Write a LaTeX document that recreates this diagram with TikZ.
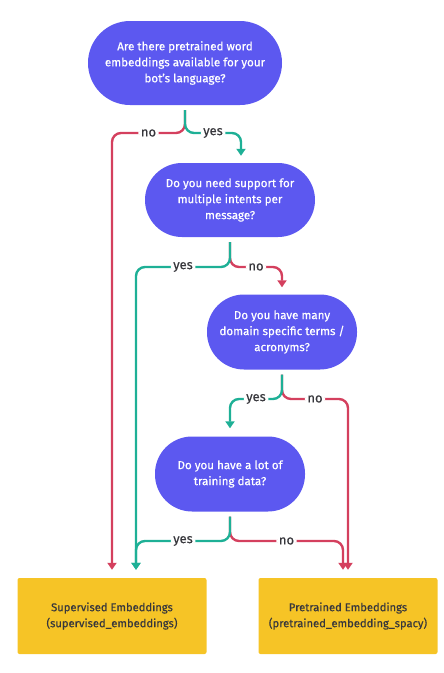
\documentclass[tikz,border=0pt]{standalone}
\usepackage{fontspec}
\setmainfont{Fira Sans}[UprightFeatures={FakeBold=0.5}]
\usetikzlibrary{arrows.meta}

\definecolor{qpurple}{RGB}{92,88,240}
\definecolor{ayellow}{RGB}{246,196,38}
\definecolor{nored}{RGB}{212,64,94}
\definecolor{yesteal}{RGB}{30,176,150}
\definecolor{txtgray}{RGB}{55,55,60}

\tikzset{
  question/.style={fill=qpurple, text=white, align=center,
    font=\fontsize{11.6}{16}\selectfont},
  answer/.style={fill=ayellow, text=txtgray, align=center, rounded corners=2,
    minimum height=76, font=\fontsize{11.2}{16}\selectfont},
  branch/.style={line width=2.4, rounded corners=9, shorten <=5,
    -{Triangle[length=7,width=9]}},
  nobranch/.style={branch, draw=nored},
  yesbranch/.style={branch, draw=yesteal},
  lbl/.style={fill=white, text=txtgray, inner sep=2.5,
    font=\fontsize{13}{14}\selectfont}
}

\begin{document}
\begin{tikzpicture}[x=1pt, y=-1pt]
  \useasboundingbox (0,0) rectangle (444,673);

  \node[question, minimum width=194, minimum height=84, rounded corners=42] (q1) at (185,63)
    {Are there pretrained word\\embeddings available for your\\bot's language?};
  \node[question, minimum width=170, minimum height=74, rounded corners=37] (q2) at (230,200)
    {Do you need support for\\multiple intents per\\message?};
  \node[question, minimum width=150, minimum height=75, rounded corners=37] (q3) at (282,332)
    {Do you have many\\domain specific terms /\\acronyms?};
  \node[question, minimum width=150, minimum height=75, rounded corners=37] (q4) at (230,474)
    {Do you have a lot of\\training data?};

  \node[answer, minimum width=189] (sup) at (112,616)
    {Supervised Embeddings\\(supervised\_embeddings)};
  \node[answer, minimum width=179] (pre) at (348,616)
    {Pretrained Embeddings\\(pretrained\_embedding\_spacy)};

  % junctions below each question
  \coordinate (j1) at (185,133);
  \coordinate (j2) at (230,267);
  \coordinate (j3) at (282,399);
  \coordinate (j4) at (230,541);

  % word embeddings?
  \draw[nobranch, shorten >=8] (q1.south) -- (j1) -- node[lbl] {no} (j1 -| sup.north) -- (sup.north);
  \draw[yesbranch, shorten >=7] (q1.south) -- (j1) -- node[lbl] {yes} (j1 -| 241,0) -- ([xshift=11]q2.north);

  % multiple intents?
  \draw[nobranch, shorten >=7] (q2.south) -- (j2) -- node[lbl] {no} (j2 -| q3.north) -- (q3.north);
  \draw[yesbranch, shorten >=8] (q2.south) -- (j2) -- node[lbl] {yes} (j2 -| 136,0) -- ([xshift=24]sup.north);

  % domain specific terms?
  \draw[nobranch, shorten >=8] (q3.south) -- (j3) -- node[lbl] {no} (j3 -| pre.north) -- (pre.north);
  \draw[yesbranch, shorten >=8] (q3.south) -- (j3) -- node[lbl] {yes} (j3 -| q4.north) -- (q4.north);

  % training data?
  \draw[nobranch, shorten >=8] (q4.south) -- (j4) -- node[lbl] {no} (j4 -| 343,0) -- ([xshift=-5]pre.north);
  \draw[yesbranch, shorten >=8] (q4.south) -- (j4) -- node[lbl] {yes} (j4 -| 136,0) -- ([xshift=24]sup.north);
\end{tikzpicture}
\end{document}
